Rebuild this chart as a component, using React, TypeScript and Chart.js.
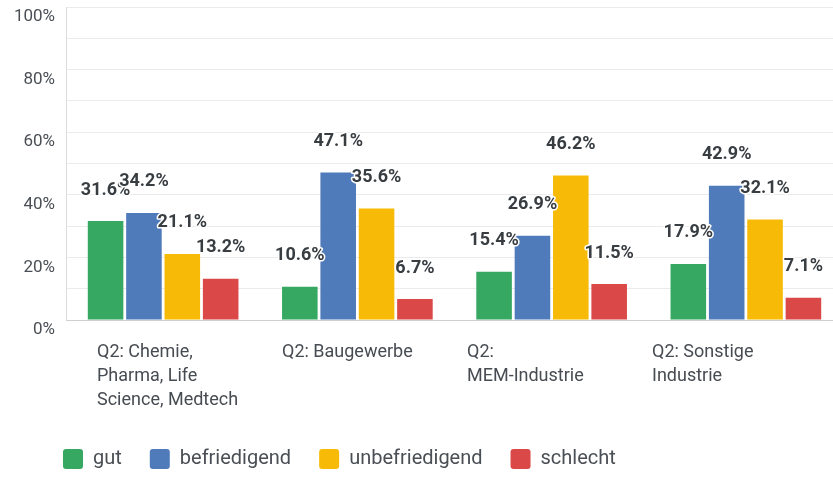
import React, { useEffect, useRef } from "react";
import { Chart, registerables } from "chart.js";

Chart.register(...registerables);

const categories: string[][] = [
  ["Q2: Chemie,", "Pharma, Life", "Science, Medtech"],
  ["Q2: Baugewerbe"],
  ["Q2:", "MEM-Industrie"],
  ["Q2: Sonstige", "Industrie"],
];
const seriesNames = ["gut", "befriedigend", "unbefriedigend", "schlecht"];
const gut = [31.6, 10.6, 15.4, 17.9];
const befriedigend = [34.2, 47.1, 26.9, 42.9];
const unbefriedigend = [21.1, 35.6, 46.2, 32.1];
const schlecht = [13.2, 6.7, 11.5, 7.1];
const seriesColors = ["#36a862", "#4f7bba", "#f7bb07", "#da4848"];
const yTickLabels = [0, 20, 40, 60, 80, 100];

const FONT = "Roboto, 'Open Sans', sans-serif";

const valueLabels = {
  id: "valueLabels",
  afterDatasetsDraw(chart: any) {
    const ctx = chart.ctx;
    ctx.save();
    ctx.font = `bold 18px ${FONT}`;
    ctx.textAlign = "center";
    ctx.textBaseline = "middle";
    ctx.lineJoin = "round";
    chart.data.datasets.forEach((ds: any, di: number) => {
      const meta = chart.getDatasetMeta(di);
      meta.data.forEach((bar: any, i: number) => {
        const text = ds.data[i].toFixed(1) + "%";
        const y = bar.y - 31;
        ctx.lineWidth = 3;
        ctx.strokeStyle = "#ffffff";
        ctx.strokeText(text, bar.x, y);
        ctx.fillStyle = "#383d42";
        ctx.fillText(text, bar.x, y);
      });
    });
    ctx.restore();
  },
};

// moves the legend row to the right so it starts under the plot, as in the original
const legendShift = {
  id: "legendShift",
  afterLayout(chart: any) {
    if (chart.legend) {
      chart.legend.left += 35;
      chart.legend.right += 35;
    }
  },
};

export default function App() {
  const ref = useRef<HTMLCanvasElement>(null);

  useEffect(() => {
    if (!ref.current) return;
    const data = [gut, befriedigend, unbefriedigend, schlecht];
    const chart = new Chart(ref.current, {
      type: "bar",
      data: {
        labels: categories.map((c) => c.join(" ")),
        datasets: seriesNames.map((name, i) => ({
          label: name,
          data: data[i],
          backgroundColor: seriesColors[i],
          borderWidth: 0,
          categoryPercentage: 0.79,
          barPercentage: 0.927,
        })),
      },
      options: {
        responsive: false,
        animation: false,
        devicePixelRatio: 1,
        layout: { padding: { left: 0, top: 7, right: 7, bottom: 0 } },
        plugins: {
          tooltip: { enabled: false },
          legend: {
            position: "bottom",
            align: "start",
            labels: {
              boxWidth: 20,
              boxHeight: 20,
              useBorderRadius: true,
              borderRadius: 3,
              padding: 28,
              color: "#4a4f55",
              font: { family: FONT, size: 20 },
            },
          },
        },
        scales: {
          x: {
            type: "category",
            grid: { display: false, drawTicks: false },
            border: { display: true, color: "#cfcfcf", width: 1 },
            ticks: { display: false },
          },
          x2: {
            type: "linear",
            position: "bottom",
            offset: false,
            min: -31 / 185,
            max: 4.2 - 31 / 185,
            grid: { display: false, drawTicks: false, offset: false },
            border: { display: false },
            afterBuildTicks: (s: any) => {
              s.ticks = categories.map((_, i) => ({ value: i }));
            },
            afterFit: (s: any) => {
              s.height = 101;
              s.paddingLeft = 0;
              s.paddingRight = 0;
            },
            ticks: {
              autoSkip: false,
              align: "start",
              padding: 20,
              color: "#474c52",
              font: { family: FONT, size: 18, lineHeight: 24 / 18 },
              callback: (v: any) => categories[v],
            },
          },
          y: {
            min: 0,
            max: 100,
            afterBuildTicks: (s: any) => {
              const t: any[] = [];
              for (let v = 0; v <= 100; v += 10) t.push({ value: v });
              s.ticks = t;
            },
            afterFit: (s: any) => {
              s.width = 66;
              s.paddingTop = 0;
              s.paddingBottom = 0;
            },
            grid: {
              drawTicks: false,
              color: (c: any) => (c.tick && c.tick.value === 0 ? "rgba(0,0,0,0)" : "#ebebeb"),
            },
            border: { display: true, color: "#dcdcdc" },
            ticks: {
              padding: 11,
              labelOffset: 10,
              color: "#4a4f55",
              font: { family: FONT, size: 17 },
              callback: (v: any) => (yTickLabels.includes(v) ? v + "%" : ""),
            },
          },
        },
      },
      plugins: [valueLabels, legendShift],
    });
    return () => chart.destroy();
  }, []);

  return (
    <div
      style={{
        position: "fixed",
        left: 0,
        top: 0,
        width: 833,
        height: 477,
        overflow: "hidden",
        background: "#ffffff",
      }}
    >
      <canvas ref={ref} width={850} height={479} style={{ display: "block" }} />
    </div>
  );
}
